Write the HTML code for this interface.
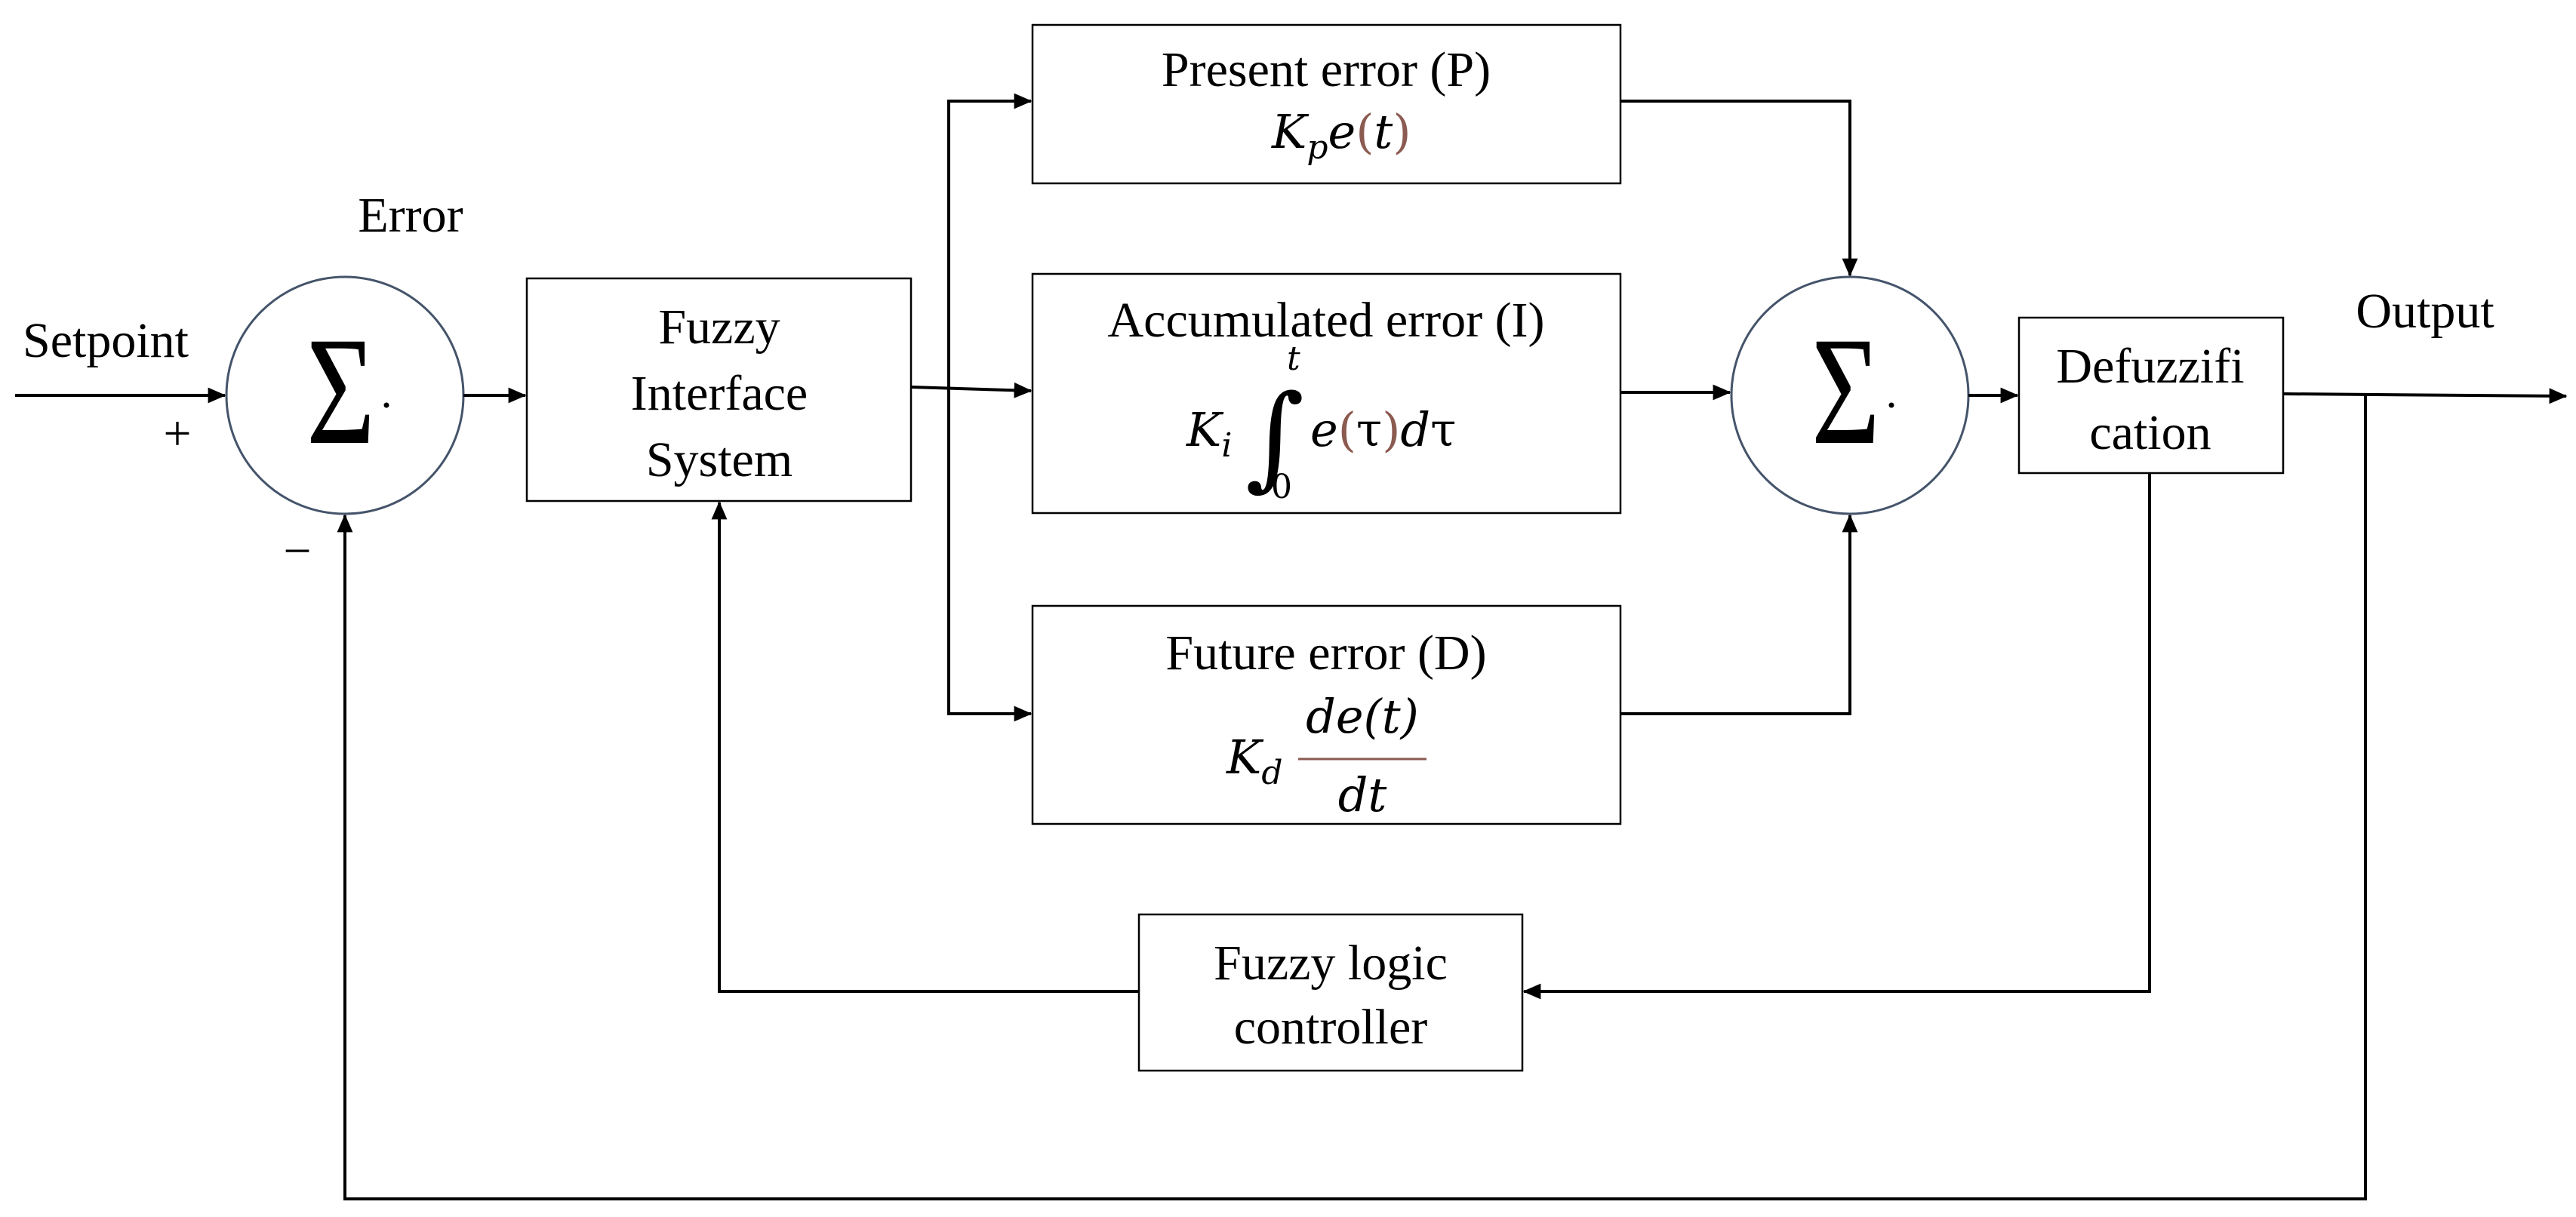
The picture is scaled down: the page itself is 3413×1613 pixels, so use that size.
<!DOCTYPE html>
<html><head><meta charset="utf-8"><style>html,body{margin:0;padding:0;background:#fff}svg{display:block}</style></head>
<body>
<svg width="3413" height="1613" viewBox="0 0 3413 1613" xmlns="http://www.w3.org/2000/svg">
<defs>
<marker id="a" markerWidth="6" markerHeight="6" refX="5.6" refY="3" orient="auto" markerUnits="strokeWidth">
<path d="M0,0.4 L6,3 L0,5.6 z" fill="#000"/></marker>
</defs>
<g fill="none" stroke="#000" stroke-width="2.5">
<rect x="698" y="369" width="509" height="295"/>
<rect x="1368" y="33" width="779" height="210"/>
<rect x="1368" y="363" width="779" height="317"/>
<rect x="1368" y="803" width="779" height="289"/>
<rect x="2675" y="421" width="350" height="206"/>
<rect x="1509" y="1212" width="508" height="207"/>
</g>
<g fill="none" stroke="#44546A" stroke-width="3">
<circle cx="457" cy="524" r="157"/>
<circle cx="2451" cy="524" r="157"/>
</g>
<g fill="none" stroke="#000" stroke-width="4">
<line x1="20" y1="524" x2="298" y2="524" marker-end="url(#a)"/>
<line x1="614" y1="524" x2="696" y2="524" marker-end="url(#a)"/>
<line x1="1207" y1="513" x2="1366" y2="518" marker-end="url(#a)"/>
<polyline points="1366,134 1257,134 1257,946 1366,946" marker-end="url(#a)"/>
<line x1="1257" y1="134" x2="1366" y2="134" marker-end="url(#a)"/>
<polyline points="2147,134 2451,134 2451,365" marker-end="url(#a)"/>
<line x1="2147" y1="520" x2="2292" y2="520" marker-end="url(#a)"/>
<polyline points="2147,946 2451,946 2451,683" marker-end="url(#a)"/>
<line x1="2608" y1="524" x2="2673" y2="524" marker-end="url(#a)"/>
<line x1="3025" y1="522" x2="3400" y2="525" marker-end="url(#a)"/>
<polyline points="3134,523 3134,1589 457,1589 457,683" marker-end="url(#a)"/>
<polyline points="2848,627 2848,1314 2019,1314" marker-end="url(#a)"/>
<polyline points="1509,1314 953,1314 953,666" marker-end="url(#a)"/>
</g>
<g font-family="Liberation Serif, serif" font-size="66" fill="#000">
<text x="30" y="473">Setpoint</text>
<text x="235" y="596" text-anchor="middle">+</text>
<text x="394" y="752" text-anchor="middle">−</text>
<text x="544" y="307" text-anchor="middle">Error</text>
<text x="3213" y="434" text-anchor="middle">Output</text>
<text x="953" y="455" text-anchor="middle">Fuzzy</text>
<text x="953" y="543" text-anchor="middle">Interface</text>
<text x="953" y="631" text-anchor="middle">System</text>
<text x="1757" y="114" text-anchor="middle">Present error (P)</text>
<text x="1757" y="446" text-anchor="middle">Accumulated error (I)</text>
<text x="1757" y="887" text-anchor="middle">Future error (D)</text>
<text x="2849" y="507" text-anchor="middle">Defuzzifi</text>
<text x="2849" y="595" text-anchor="middle">cation</text>
<text x="1763" y="1298" text-anchor="middle">Fuzzy logic</text>
<text x="1763" y="1383" text-anchor="middle">controller</text>
<text x="406" y="587" font-size="205" textLength="91" lengthAdjust="spacingAndGlyphs">Σ</text>
<text x="2400" y="587" font-size="205" textLength="91" lengthAdjust="spacingAndGlyphs">Σ</text>
<circle cx="512" cy="537" r="3.5"/>
<circle cx="2506" cy="537" r="3.5"/>
</g>
<g font-family="DejaVu Serif, serif" font-style="italic" font-size="62" fill="#000">
<text x="1685" y="196">K<tspan font-size="44" dy="14">p</tspan><tspan dy="-14">e</tspan><tspan fill="#8B5A50" font-style="normal">(</tspan>t<tspan fill="#8B5A50" font-style="normal">)</tspan></text>
<text x="1572" y="591">K<tspan font-size="44" dy="14">i</tspan></text>
<text x="1650" y="630" font-size="150" font-style="normal">∫</text>
<text x="1705" y="490" font-size="44">t</text>
<text x="1684" y="660" font-size="44" font-style="normal">0</text>
<text x="1736" y="591">e<tspan fill="#8B5A50" font-style="normal">(</tspan><tspan font-style="normal">τ</tspan><tspan fill="#8B5A50" font-style="normal">)</tspan>d<tspan font-style="normal">τ</tspan></text>
<text x="1625" y="1025">K<tspan font-size="44" dy="14">d</tspan></text>
<text x="1805" y="971" text-anchor="middle">de(t)</text>
<line x1="1720" y1="1006" x2="1890" y2="1006" stroke="#8B5A50" stroke-width="3"/>
<text x="1805" y="1075" text-anchor="middle">dt</text>
</g>
</svg>
</body></html>
